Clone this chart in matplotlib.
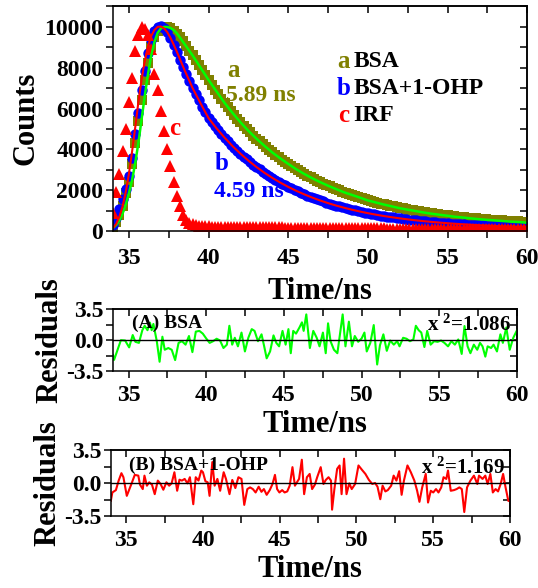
import numpy as np
import matplotlib
matplotlib.use('Agg')
import matplotlib.pyplot as plt
from matplotlib.ticker import MultipleLocator, FixedLocator

plt.rcParams['font.family'] = 'Liberation Serif'
plt.rcParams['font.weight'] = 'bold'
plt.rcParams['axes.labelweight'] = 'bold'
plt.rcParams['mathtext.fontset'] = 'custom'
plt.rcParams['mathtext.rm'] = 'Liberation Serif:bold'
plt.rcParams['mathtext.it'] = 'Liberation Serif:bold'
plt.rcParams['mathtext.bf'] = 'Liberation Serif:bold'

OLIVE = '#808000'
BLUE = '#0000ff'
RED = '#ff0000'
LIME = '#00ff00'

# decay channels, 0.2 ns apart
decayTime = np.round(np.arange(34.0, 60.01, 0.2), 1)

bsaCounts = [
    200, 450, 800, 1250, 1850, 2400, 3300, 4300, 5400, 6400,
    7400, 8250, 9000, 9500, 9800, 9950, 10000, 10000, 9930, 9820,
    9670, 9490, 9290, 9070, 8840, 8600, 8360, 8120, 7880, 7640,
    7400, 7160, 6930, 6700, 6490, 6280, 6080, 5880, 5690, 5510,
    5330, 5160, 4990, 4830, 4680, 4530, 4390, 4250, 4110, 3980,
    3850, 3730, 3620, 3500, 3390, 3290, 3180, 3080, 2990, 2890,
    2800, 2720, 2630, 2550, 2470, 2400, 2330, 2250, 2190, 2120,
    2060, 1990, 1930, 1880, 1820, 1770, 1710, 1660, 1620, 1570,
    1520, 1480, 1440, 1390, 1350, 1320, 1280, 1240, 1210, 1170,
    1140, 1110, 1080, 1050, 1020, 1000, 970, 940, 920, 890,
    870, 850, 830, 810, 790, 770, 750, 730, 710, 700,
    680, 660, 650, 630, 620, 600, 590, 580, 560, 550,
    540, 530, 520, 510, 500, 490, 480, 470, 460, 450,
    440]

ohpCounts = [
    300, 650, 1100, 1550, 2050, 2700, 3600, 4750, 5800, 6900,
    7850, 8700, 9350, 9800, 10000, 10050, 9950, 9750, 9450, 9100,
    8750, 8400, 8050, 7700, 7350, 7000, 6700, 6400, 6100, 5820,
    5530, 5320, 5130, 4940, 4750, 4580, 4410, 4240, 4090, 3940,
    3790, 3650, 3520, 3390, 3260, 3140, 3030, 2910, 2810, 2710,
    2610, 2510, 2420, 2330, 2250, 2160, 2090, 2010, 1940, 1870,
    1800, 1740, 1670, 1610, 1560, 1500, 1450, 1390, 1340, 1300,
    1250, 1210, 1160, 1120, 1080, 1050, 1010, 980, 940, 910,
    880, 850, 820, 790, 760, 740, 710, 690, 670, 640,
    620, 600, 580, 560, 550, 530, 510, 490, 480, 460,
    450, 440, 420, 410, 400, 390, 370, 360, 350, 340,
    330, 320, 310, 300, 300, 290, 280, 270, 260, 260,
    250, 240, 230, 230, 220, 220, 210, 210, 200, 200,
    200]

irfCounts = [
    900, 1900, 2800, 3900, 5000, 6300, 7500, 8800, 9600, 10000,
    9900, 9600, 8900, 7700, 6900, 5900, 4900, 4000, 3200, 2400,
    1700, 1250, 800, 550, 420, 350, 300, 270, 250, 235,
    225, 222, 220, 218, 215, 213, 211, 209, 207, 205,
    203, 201, 199, 197, 195, 193, 191, 189, 187, 185,
    183, 181, 179, 177, 175, 174, 172, 170, 168, 166,
    165, 163, 161, 160, 158, 156, 155, 153, 151, 150,
    148, 147, 145, 144, 142, 141, 139, 138, 137, 135,
    134, 132, 131, 130, 128, 127, 126, 124, 123, 122,
    121, 119, 118, 117, 116, 115, 113, 112, 111, 110,
    109, 108, 107, 106, 105, 104, 103, 102, 101, 100,
    99, 98, 97, 96, 96, 95, 94, 93, 92, 92,
    91, 90, 90, 89, 88, 88, 87, 86, 86, 85,
    85]

# fitted curves
fitTime = np.round(np.concatenate([np.arange(34.0, 38.01, 0.2), np.arange(38.5, 60.01, 0.5)]), 1)

bsaFit = [
    150, 300, 520, 850, 1300, 1850, 2500, 3350, 4350, 5500,
    6650, 7700, 8600, 9250, 9700, 9920, 10000, 10000, 9950, 9850,
    9700,
    9150, 8600, 8000, 7400, 6840, 6280, 5790, 5330, 4910, 4530,
    4180, 3850, 3560, 3290, 3030, 2800, 2590, 2400, 2220, 2060,
    1900, 1770, 1640, 1500, 1400, 1300, 1210, 1120, 1050, 980,
    910, 850, 800, 750, 700, 660, 620, 580, 550, 520,
    490, 460, 440, 410]

ohpFit = [
    150, 350, 700, 1200, 1900, 2800, 3900, 5100, 6350, 7450,
    8350, 9050, 9550, 9850, 10000, 10020, 9930, 9750, 9480, 9150,
    8800,
    7870, 7000, 6250, 5530, 5030, 4580, 4165, 3790, 3450, 3141,
    2860, 2606, 2375, 2164, 1973, 1800, 1643, 1499, 1369, 1251,
    1144, 1046, 958, 877, 804, 738, 678, 623, 573, 527,
    486, 450, 416, 385, 357, 331, 308, 288, 269, 251,
    235, 221, 208, 197]

residTimeA = [
    34.0, 34.07, 34.22, 34.51, 34.78, 35.04, 35.27, 35.44, 35.67, 35.89,
    36.04, 36.22, 36.38, 36.49, 36.6, 36.71, 36.82, 37.0, 37.18, 37.33,
    37.56, 37.78, 38.0, 38.22, 38.44, 38.67, 38.89, 39.11, 39.33, 39.56,
    39.78, 40.0, 40.22, 40.44, 40.67, 40.89, 41.11, 41.33, 41.49, 41.67,
    41.84, 42.04, 42.27, 42.49, 42.71, 42.93, 43.11, 43.33, 43.56, 43.73,
    43.89, 44.11, 44.33, 44.51, 44.69, 44.91, 45.11, 45.29, 45.44, 45.6,
    45.78, 46.0, 46.16, 46.27, 46.44, 46.67, 46.89, 47.11, 47.29, 47.51,
    47.69, 47.84, 48.0, 48.22, 48.44, 48.78, 48.96, 49.18, 49.38, 49.56,
    49.78, 50.0, 50.18, 50.33, 50.56, 50.78, 51.0, 51.18, 51.4, 51.62,
    51.84, 52.07, 52.29, 52.44, 52.67, 52.89, 53.11, 53.33, 53.49, 53.67,
    53.84, 54.04, 54.22, 54.44, 54.67, 54.89, 55.11, 55.33, 55.56, 55.78,
    56.0, 56.22, 56.44, 56.62, 56.82, 57.0, 57.22, 57.44, 57.62, 57.78,
    57.96, 58.11, 58.33, 58.49, 58.71, 58.93, 59.09, 59.31, 59.53, 59.76,
    60.0]
residA = [
    -1.67, -2.24, -1.48, 0.0, -0.04, -0.82, 0.58, -0.19, -0.31, 1.13,
    1.63, 1.13, 1.98, 1.13, 1.84, 0.86, -0.12, -2.45, 0.39, -1.09,
    -0.89, -1.09, -2.26, -0.31, -0.12, -0.51, 0.47, -1.36, 0.97, 1.05,
    0.74, 0.19, -0.31, -0.12, 0.16, -0.04, -0.89, -0.51, 1.63, -0.51,
    0.27, -0.7, 0.86, -1.28, 0.27, 1.25, 1.05, -0.12, 0.66, -0.7,
    -2.06, -1.28, 0.54, -0.31, -0.7, 1.05, -0.51, 1.25, -1.48, 1.05,
    0.74, 1.44, 2.02, 1.05, 2.92, -0.89, 1.05, 0.27, -0.7, 0.86,
    -1.48, 1.91, -0.12, -1.09, -1.48, 2.92, -0.7, 2.1, -0.7, 0.47,
    -0.19, 0.19, 0.86, -1.28, -0.31, 1.71, -2.76, -0.58, 0.66, -1.21,
    -0.04, -0.51, -0.12, -0.7, 0.27, 0.16, -0.12, 0.08, 1.63, 1.13,
    0.86, -0.78, 1.05, -0.51, -0.12, -0.19, -0.04, -0.31, -0.7, -0.12,
    -0.51, 0.08, -1.56, 1.6, -0.7, -1.48, -0.51, -1.09, -0.31, -0.7,
    -1.87, -0.7, -0.89, -0.51, -1.28, 0.66, -0.31, 1.44, -1.09, 0.27,
    1.13]

residTimeB = [
    34.0, 34.1, 34.33, 34.51, 34.69, 34.82, 35.04, 35.34, 35.56, 35.79,
    35.9, 36.08, 36.19, 36.35, 36.5, 36.68, 36.86, 37.06, 37.24, 37.42,
    37.62, 37.8, 37.96, 38.14, 38.32, 38.47, 38.63, 38.81, 38.99, 39.15,
    39.37, 39.53, 39.71, 39.89, 40.0, 40.16, 40.31, 40.43, 40.61, 40.76,
    40.94, 41.12, 41.35, 41.5, 41.73, 41.91, 42.11, 42.31, 42.51, 42.69,
    42.89, 43.07, 43.25, 43.43, 43.63, 43.81, 43.97, 44.15, 44.35, 44.53,
    44.69, 44.83, 44.98, 45.16, 45.32, 45.49, 45.65, 45.83, 45.99, 46.12,
    46.26, 46.44, 46.59, 46.77, 46.95, 47.11, 47.29, 47.44, 47.67, 47.85,
    48.0, 48.18, 48.34, 48.41, 48.56, 48.74, 48.9, 49.03, 49.19, 49.35,
    49.53, 49.69, 49.91, 50.13, 50.36, 50.58, 50.81, 51.03, 51.21, 51.37,
    51.55, 51.7, 51.88, 52.04, 52.26, 52.42, 52.6, 52.78, 52.94, 53.09,
    53.32, 53.54, 53.77, 53.95, 54.1, 54.28, 54.51, 54.66, 54.84, 55.0,
    55.18, 55.34, 55.52, 55.67, 55.85, 55.96, 56.14, 56.35, 56.52, 56.7,
    56.86, 57.02, 57.2, 57.42, 57.65, 57.87, 57.98, 58.21, 58.39, 58.54,
    58.72, 58.88, 59.06, 59.22, 59.39, 59.55, 59.71, 59.89, 60.0]
residB = [
    -1.86, -0.97, -0.72, 0.29, 1.08, 0.65, -1.33, -0.07, 0.9, 0.82,
    -0.14, -0.61, 0.82, -0.25, 0.11, -0.14, -1.15, 0.29, -0.07, -0.68,
    0.11, -0.25, 0.0, 1.18, -0.79, 0.39, 0.29, 0.47, 0.0, 0.65,
    -2.22, 0.65, 0.29, 1.36, 1.18, 0.22, 0.11, -1.33, 2.26, -0.25,
    0.47, -0.79, 1.18, 0.47, -1.15, 0.36, -0.5, 0.65, 0.47, -2.29,
    -0.61, -0.43, -0.61, -0.97, -0.36, -0.9, -0.61, -1.22, -0.72, -0.07,
    0.9, -0.61, -0.97, -0.72, -0.97, -0.86, -0.25, 1.72, -0.25, 0.11,
    0.47, 2.51, -1.15, 0.65, 1.0, -0.61, -0.14, 0.65, 1.72, -0.07,
    0.36, 0.65, 0.29, -2.8, -0.61, 1.54, 1.9, -1.15, 2.62, -1.15,
    0.0, -0.61, -0.07, 1.9, 1.43, 1.0, 0.36, -0.07, 0.04, -0.36,
    -1.69, -0.25, -0.86, -0.72, -0.25, 0.82, 0.29, 1.29, -1.22, 0.29,
    1.9, 1.18, 0.29, -0.79, -1.97, -0.43, 1.0, -2.04, -0.79, -0.97,
    -0.61, -0.97, -0.43, 0.65, 0.47, 1.36, -0.79, -0.72, -0.61, -0.43,
    -0.61, -3.05, -0.43, 0.29, 0.82, -0.07, 0.82, 0.47, 0.82, -0.07,
    1.0, -0.97, -0.61, -0.86, -0.07, 1.0, -0.43, -1.86, -1.9]

TICK_SIZE = 17
LABEL_SIZE = 22


def styleAxes(ax, xstep, ystep, xpad):
    # outward ticks on bottom/left, inward mirror ticks on top/right
    ax.set_xlim(34, 60)
    ax.xaxis.set_major_locator(MultipleLocator(5))
    ax.xaxis.set_minor_locator(MultipleLocator(xstep))
    ax.tick_params(which='both', direction='out', length=5, width=1.1,
                   labelsize=TICK_SIZE, pad=2, top=False, right=False)
    ax.tick_params(axis='x', which='both', pad=xpad)
    top = ax.secondary_xaxis('top')
    top.xaxis.set_major_locator(MultipleLocator(xstep))
    top.tick_params(direction='in', length=5, width=1.1, labeltop=False)
    right = ax.secondary_yaxis('right')
    right.yaxis.set_major_locator(MultipleLocator(ystep))
    right.tick_params(direction='in', length=5, width=1.1, labelright=False)
    for sp in list(ax.spines.values()) + [top.spines['top'], right.spines['right']]:
        sp.set_linewidth(1.1)


def plotDecay(ax):
    ax.plot(decayTime, bsaCounts, 's', color=OLIVE, ms=7.5, mew=0)
    ax.plot(decayTime, ohpCounts, 'o', color=BLUE, ms=7.5, mew=0)
    ax.plot(decayTime, irfCounts, '^', color=RED, ms=9, mew=0)
    ax.plot(fitTime, bsaFit, '-', color=LIME, lw=1.8)
    ax.plot(fitTime, ohpFit, '-', color=RED, lw=1.5)

    ax.set_ylim(0, 11030)
    ax.yaxis.set_major_locator(MultipleLocator(2000))
    ax.yaxis.set_minor_locator(MultipleLocator(1000))
    styleAxes(ax, 2.5, 1000, 7)
    ax.set_ylabel('Counts', fontsize=LABEL_SIZE, labelpad=3)
    ax.set_xlabel('Time/ns', fontsize=LABEL_SIZE, labelpad=6)

    ax.text(41.55, 7880, 'a', color=OLIVE, fontsize=18, ha='center', va='center')
    ax.text(41.1, 6650, '5.89 ns', color=OLIVE, fontsize=17, ha='left', va='center')
    ax.text(40.8, 3310, 'b', color=BLUE, fontsize=18, ha='center', va='center')
    ax.text(40.35, 1930, '4.59 ns', color=BLUE, fontsize=17, ha='left', va='center')
    ax.text(37.9, 5020, 'c', color=RED, fontsize=18, ha='center', va='center')

    legendRows = [('a', OLIVE, 'BSA', 8290), ('b', BLUE, 'BSA+1-OHP', 6980), ('c', RED, 'IRF', 5680)]
    for letter, col, name, y in legendRows:
        ax.text(48.45, y, letter, color=col, fontsize=18, ha='center', va='center')
        ax.text(49.1, y, name, color='black', fontsize=17, ha='left', va='center')


def plotResiduals(ax, t, r, col, title, chi):
    ax.plot(t, r, '-', color=col, lw=1.5)
    ax.axhline(0, color='black', lw=1.0)
    ax.set_ylim(-3.5, 3.5)
    ax.yaxis.set_major_locator(FixedLocator([-3.5, 0, 3.5]))
    ax.yaxis.set_minor_locator(FixedLocator([-1.75, 1.75]))
    ax.set_yticklabels(['-3.5', '0.0', '3.5'])
    styleAxes(ax, 2.5, 1.75, 5)
    ax.set_ylabel('Residuals', fontsize=LABEL_SIZE, labelpad=1)
    ax.set_xlabel('Time/ns', fontsize=LABEL_SIZE, labelpad=3)
    ax.text(35.2, 1.4, title, fontsize=14, ha='left', va='baseline')
    ax.text(54.2, 1.05, 'x $^{2}$=' + chi, fontsize=15, ha='left', va='baseline')


fig = plt.figure(figsize=(5.38, 5.88), dpi=100)
axTop = fig.add_axes([0.210, 0.607, 0.770, 0.383])
axA = fig.add_axes([0.210, 0.369, 0.751, 0.105])
axB = fig.add_axes([0.206, 0.122, 0.742, 0.112])

plotDecay(axTop)
plotResiduals(axA, residTimeA, residA, LIME, '(A) BSA', '1.086')
plotResiduals(axB, residTimeB, residB, RED, '(B) BSA+1-OHP', '1.169')

fig.savefig('out.png', dpi=100)
